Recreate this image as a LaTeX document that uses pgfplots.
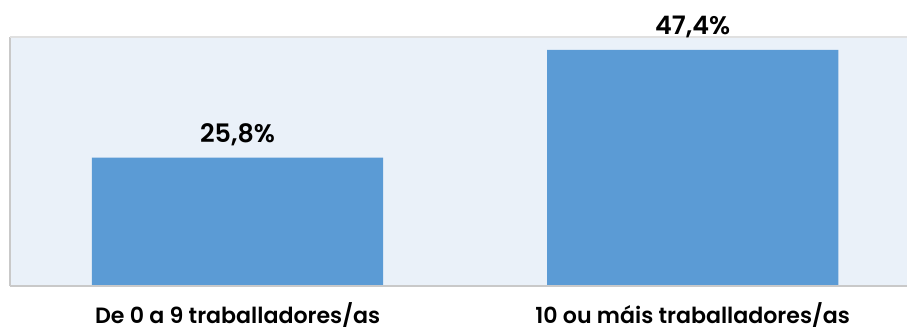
\documentclass[border=0pt]{standalone}
\usepackage{fontspec}
\setmainfont{Poppins}
\newfontfamily\semib{Poppins SemiBold}
\usepackage{pgfplots}
\pgfplotsset{compat=1.18}
\definecolor{barblue}{HTML}{5B9BD5}
\definecolor{bgblue}{HTML}{EAF1F9}
\definecolor{lgrey}{HTML}{C9C9C9}
\begin{document}
\begin{tikzpicture}[x=1bp,y=1bp]
\useasboundingbox (0,0) rectangle (907,332);
\begin{axis}[
  at={(10bp,46bp)}, anchor=south west,
  scale only axis, width=897bp, height=249bp,
  xmin=-0.5, xmax=1.471, ymin=0, ymax=50,
  axis background/.style={fill=bgblue},
  axis line style={draw=none},
  ytick=\empty,
  xtick={0,1},
  xticklabels={De 0 a 9 traballadores/as, 10 ou máis traballadores/as},
  major tick length=0pt,
  xticklabel style={font=\semib\fontsize{22.2}{26}\selectfont, yshift=-13bp},
  ybar, bar width=0.64,
  nodes near coords,
  point meta=explicit symbolic,
  every node near coord/.append style={font=\semib\fontsize{25.5}{30}\selectfont, yshift=8.5bp},
  clip=false,
]
\addplot[fill=barblue, draw=none] coordinates {(0,25.8) [25,8\%] (1,47.4) [47,4\%]};
\draw[lgrey, line width=1.2bp] (axis description cs:0,0) -- (axis description cs:0,1);
\draw[black!12, line width=1.5bp] (axis description cs:0,1) -- (axis description cs:1,1);
\draw[lgrey, line width=1.5bp] (axis description cs:0,0) -- (axis description cs:1,0);
\end{axis}
\end{tikzpicture}
\end{document}
